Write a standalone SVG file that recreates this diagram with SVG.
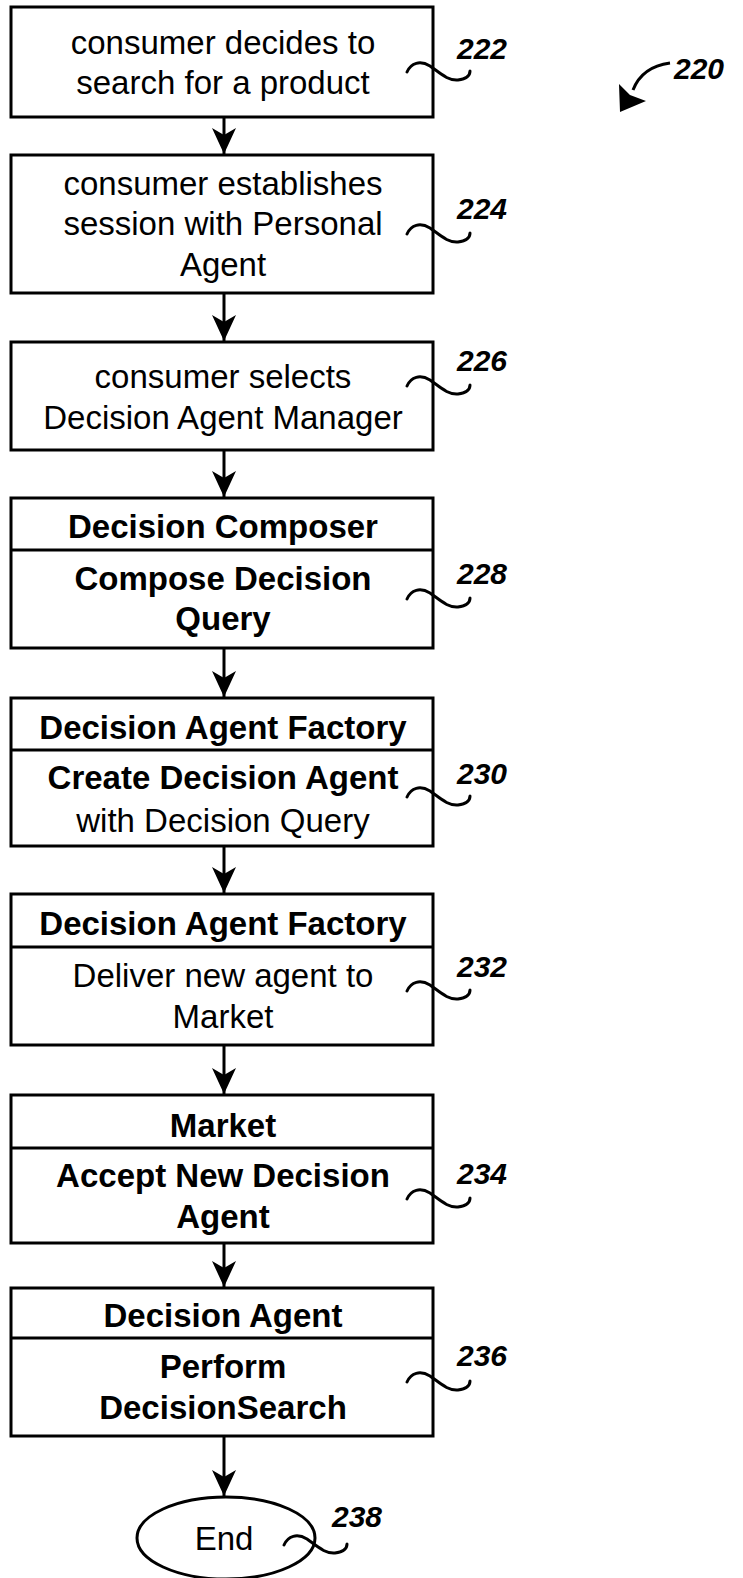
<svg xmlns="http://www.w3.org/2000/svg" width="743" height="1578" viewBox="0 0 743 1578">
<defs>
<style>
.box{fill:#fff;stroke:#000;stroke-width:3}
.div{stroke:#000;stroke-width:3}
.t{font-family:"Liberation Sans",Arial,sans-serif;font-size:33px;text-anchor:middle;fill:#000}
.b{font-weight:bold}
.lbl{font-family:"Liberation Sans",Arial,sans-serif;font-size:30px;font-weight:bold;font-style:italic;fill:#000}
.sq{fill:none;stroke:#000;stroke-width:3;stroke-linecap:round}
.con{stroke:#000;stroke-width:3;fill:none}
</style>
<marker id="ah" viewBox="0 0 26 24" refX="26" refY="12" markerWidth="26" markerHeight="24" markerUnits="userSpaceOnUse" orient="auto">
<path d="M0,0 L26,12 L0,24 L7,12 Z" fill="#000"/>
</marker>
</defs>
<rect width="743" height="1578" fill="#fff"/>

<g id="connectors">
<line class="con" x1="224" y1="117" x2="224" y2="154" marker-end="url(#ah)"/>
<line class="con" x1="224" y1="293" x2="224" y2="341" marker-end="url(#ah)"/>
<line class="con" x1="224" y1="450" x2="224" y2="497" marker-end="url(#ah)"/>
<line class="con" x1="224" y1="648" x2="224" y2="697" marker-end="url(#ah)"/>
<line class="con" x1="224" y1="846" x2="224" y2="893" marker-end="url(#ah)"/>
<line class="con" x1="224" y1="1045" x2="224" y2="1094" marker-end="url(#ah)"/>
<line class="con" x1="224" y1="1243" x2="224" y2="1287" marker-end="url(#ah)"/>
<line class="con" x1="224" y1="1436" x2="224" y2="1496" marker-end="url(#ah)"/>
</g>

<g id="n222">
<rect class="box" x="11" y="7" width="422" height="110"/>
<text class="t" x="223" y="54">consumer decides to</text>
<text class="t" x="223" y="94">search for a product</text>
<text class="lbl" x="457" y="59">222</text>
<path class="sq" d="M407,72 C411,63 420,60 430,66 C440,73 448,81 458,80 C466,79 470,76 470,71"/>
</g>

<g id="n224">
<rect class="box" x="11" y="155" width="422" height="138"/>
<text class="t" x="223" y="195">consumer establishes</text>
<text class="t" x="223" y="235">session with Personal</text>
<text class="t" x="223" y="276">Agent</text>
<text class="lbl" x="457" y="219">224</text>
<path class="sq" d="M407,234 C411,225 420,222 430,228 C440,235 448,243 458,242 C466,241 470,238 470,233"/>
</g>

<g id="n226">
<rect class="box" x="11" y="342" width="422" height="108"/>
<text class="t" x="223" y="388">consumer selects</text>
<text class="t" x="223" y="429">Decision Agent Manager</text>
<text class="lbl" x="457" y="371">226</text>
<path class="sq" d="M407,386 C411,377 420,374 430,380 C440,387 448,395 458,394 C466,393 470,390 470,385"/>
</g>

<g id="n228">
<rect class="box" x="11" y="498" width="422" height="150"/>
<line class="div" x1="11" y1="550" x2="433" y2="550"/>
<text class="t b" x="223" y="538">Decision Composer</text>
<text class="t b" x="223" y="590">Compose Decision</text>
<text class="t b" x="223" y="630">Query</text>
<text class="lbl" x="457" y="584">228</text>
<path class="sq" d="M407,599 C411,590 420,587 430,593 C440,600 448,608 458,607 C466,606 470,603 470,598"/>
</g>

<g id="n230">
<rect class="box" x="11" y="698" width="422" height="148"/>
<line class="div" x1="11" y1="750" x2="433" y2="750"/>
<text class="t b" x="223" y="739">Decision Agent Factory</text>
<text class="t b" x="223" y="789">Create Decision Agent</text>
<text class="t" x="223" y="832">with Decision Query</text>
<text class="lbl" x="457" y="784">230</text>
<path class="sq" d="M407,797 C411,788 420,785 430,791 C440,798 448,806 458,805 C466,804 470,801 470,796"/>
</g>

<g id="n232">
<rect class="box" x="11" y="894" width="422" height="151"/>
<line class="div" x1="11" y1="947" x2="433" y2="947"/>
<text class="t b" x="223" y="935">Decision Agent Factory</text>
<text class="t" x="223" y="987">Deliver new agent to</text>
<text class="t" x="223" y="1028">Market</text>
<text class="lbl" x="457" y="977">232</text>
<path class="sq" d="M407,991 C411,982 420,979 430,985 C440,992 448,1000 458,999 C466,998 470,995 470,990"/>
</g>

<g id="n234">
<rect class="box" x="11" y="1095" width="422" height="148"/>
<line class="div" x1="11" y1="1148" x2="433" y2="1148"/>
<text class="t b" x="223" y="1137">Market</text>
<text class="t b" x="223" y="1187">Accept New Decision</text>
<text class="t b" x="223" y="1228">Agent</text>
<text class="lbl" x="457" y="1184">234</text>
<path class="sq" d="M407,1199 C411,1190 420,1187 430,1193 C440,1200 448,1208 458,1207 C466,1206 470,1203 470,1198"/>
</g>

<g id="n236">
<rect class="box" x="11" y="1288" width="422" height="148"/>
<line class="div" x1="11" y1="1338" x2="433" y2="1338"/>
<text class="t b" x="223" y="1327">Decision Agent</text>
<text class="t b" x="223" y="1378">Perform</text>
<text class="t b" x="223" y="1419">DecisionSearch</text>
<text class="lbl" x="457" y="1366">236</text>
<path class="sq" d="M407,1382 C411,1373 420,1370 430,1376 C440,1383 448,1391 458,1390 C466,1389 470,1386 470,1381"/>
</g>

<g id="n238">
<ellipse class="box" cx="226" cy="1538" rx="89" ry="41"/>
<text class="t" x="224" y="1550">End</text>
<text class="lbl" x="332" y="1527">238</text>
<path class="sq" d="M284,1545 C288,1536 297,1533 307,1539 C317,1546 325,1554 335,1553 C343,1552 347,1549 347,1544"/>
</g>

<g id="n220">
<text class="lbl" x="674" y="79">220</text>
<path class="con" d="M670,63 C655,65 640,72 633,90"/>
<path d="M620,112 L619,84 L630,95 L646,101 Z" fill="#000"/>
</g>
</svg>
